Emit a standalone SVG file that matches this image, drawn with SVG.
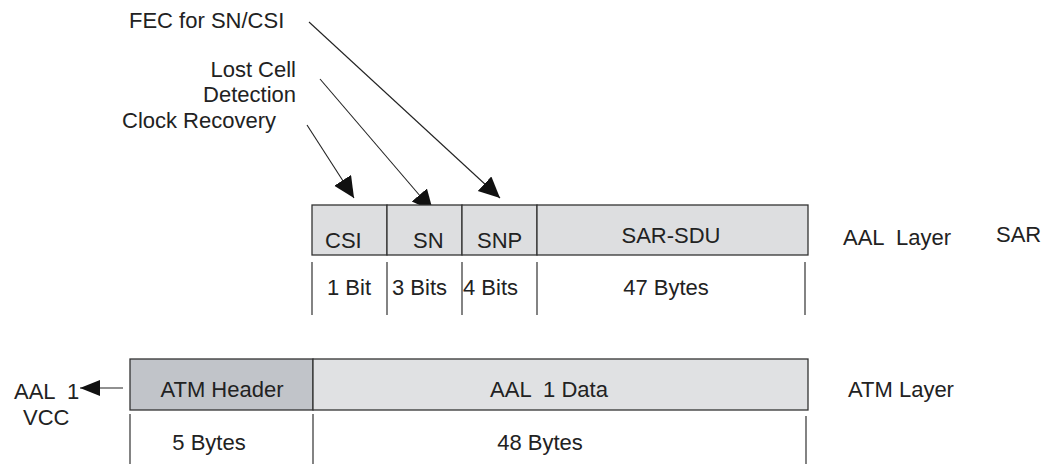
<svg xmlns="http://www.w3.org/2000/svg" width="1058" height="464" viewBox="0 0 1058 464">
<defs>
<style>
text{font-family:"Liberation Sans",Arial,sans-serif;font-size:22px;fill:#222;white-space:pre}
.box{stroke:#333;stroke-width:1.3}
.tick{stroke:#333;stroke-width:1.2;fill:none}
.conn{stroke:#222;stroke-width:1.1;fill:none}
.mid{text-anchor:middle}
.end{text-anchor:end}
</style>
<marker id="ah" markerUnits="userSpaceOnUse" markerWidth="24" markerHeight="22" refX="21" refY="10" orient="auto">
<path d="M0,0 L21,10 L0,20 Z" fill="#111"/>
</marker>
<marker id="ahs" markerUnits="userSpaceOnUse" markerWidth="22" markerHeight="18" refX="20" refY="8" orient="auto">
<path d="M0,0 L20,8 L0,16 Z" fill="#111"/>
</marker>
</defs>
<rect width="1058" height="464" fill="#fff"/>

<g id="connectors">
<line class="conn" x1="309" y1="22" x2="500" y2="198" marker-end="url(#ah)"/>
<line class="conn" x1="320" y1="79" x2="433" y2="211" marker-end="url(#ah)"/>
<line class="conn" x1="307" y1="125" x2="354" y2="198" marker-end="url(#ah)"/>
<line class="conn" x1="123" y1="388" x2="80" y2="388" marker-end="url(#ahs)"/>
</g>

<g id="labels-top">
<text x="129" y="28">FEC for SN/CSI</text>
<text class="end" x="296" y="77">Lost Cell</text>
<text class="end" x="296" y="102">Detection</text>
<text x="122" y="128">Clock Recovery</text>
</g>

<g id="sar-pdu">
<g id="csi"><rect class="box" x="312" y="205" width="75" height="50" fill="#dddee0"/><text x="325" y="248">CSI</text></g>
<g id="sn"><rect class="box" x="387" y="205" width="75" height="50" fill="#dddee0"/><text x="413" y="248">SN</text></g>
<g id="snp"><rect class="box" x="462" y="205" width="75" height="50" fill="#dddee0"/><text x="477" y="248">SNP</text></g>
<g id="sar-sdu"><rect class="box" x="537" y="205" width="271" height="50" fill="#dddee0"/><text class="mid" x="671" y="243">SAR-SDU</text></g>
</g>

<g id="sar-sizes">
<path class="tick" d="M312,262 V315 M387,262 V315 M462,262 V315 M537,262 V315 M805,262 V315"/>
<text x="327" y="295">1 Bit</text>
<text x="392" y="295">3 Bits</text>
<text x="463" y="295">4 Bits</text>
<text class="mid" x="666" y="295">47 Bytes</text>
</g>

<g id="layer-labels">
<text x="843" y="245">AAL  Layer</text>
<text x="996" y="242">SAR</text>
<text x="848" y="397">ATM Layer</text>
</g>

<g id="atm-cell">
<g id="atm-header"><rect class="box" x="130" y="359" width="183" height="51" fill="#c1c4c9"/><text class="mid" x="222" y="397">ATM Header</text></g>
<g id="aal1-data"><rect class="box" x="313" y="359" width="495" height="51" fill="#e0e1e3"/><text class="mid" x="549" y="397">AAL  1 Data</text></g>
</g>

<g id="atm-sizes">
<path class="tick" d="M130,414 V464 M313,414 V464 M806,416 V464"/>
<text class="mid" x="209" y="450">5 Bytes</text>
<text class="mid" x="540" y="450">48 Bytes</text>
</g>

<g id="vcc">
<text x="14" y="399">AAL  1</text>
<text x="23" y="425">VCC</text>
</g>
</svg>
